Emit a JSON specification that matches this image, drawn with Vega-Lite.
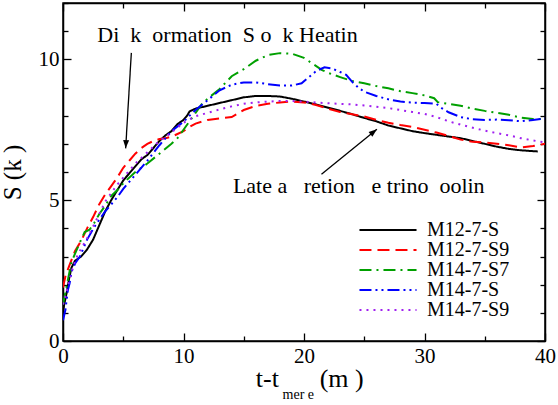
{
  "$schema": "https://vega.github.io/schema/vega-lite/v6.json",
  "width": 482,
  "height": 338,
  "autosize": "none",
  "padding": {"left": 63, "top": 3, "right": 13, "bottom": 64},
  "background": "white",
  "config": {
    "font": "Liberation Serif",
    "view": {"stroke": "black", "strokeWidth": 1.5},
    "axis": {
      "domainColor": "black", "domainWidth": 1.5, "tickColor": "black", "tickWidth": 1.3,
      "labelFont": "Liberation Serif", "labelFontSize": 21, "labelColor": "black",
      "titleFont": "Liberation Serif", "titleFontWeight": "normal", "titleColor": "black",
      "grid": false, "labelOverlap": false, "labelFlush": false
    },
    "legend": {"labelFont": "Liberation Serif"},
    "text": {"font": "Liberation Serif"}
  },
  "datasets": {
    "curves": [
      {"r":"M12-7-S","t":0,"s":1.0},{"r":"M12-7-S","t":0.1,"s":1.3},{"r":"M12-7-S","t":0.3,"s":1.7},{"r":"M12-7-S","t":0.5,"s":2.2},{"r":"M12-7-S","t":0.7,"s":2.6},{"r":"M12-7-S","t":1.0,"s":2.85},{"r":"M12-7-S","t":1.5,"s":3.0},{"r":"M12-7-S","t":2.0,"s":3.25},{"r":"M12-7-S","t":2.5,"s":3.6},{"r":"M12-7-S","t":3.0,"s":4.1},{"r":"M12-7-S","t":3.5,"s":4.6},{"r":"M12-7-S","t":4.0,"s":5.0},{"r":"M12-7-S","t":4.5,"s":5.35},{"r":"M12-7-S","t":5.0,"s":5.7},{"r":"M12-7-S","t":5.5,"s":5.95},{"r":"M12-7-S","t":6.0,"s":6.2},{"r":"M12-7-S","t":6.5,"s":6.45},{"r":"M12-7-S","t":7.0,"s":6.6},{"r":"M12-7-S","t":7.5,"s":6.85},{"r":"M12-7-S","t":8.0,"s":7.1},{"r":"M12-7-S","t":8.5,"s":7.3},{"r":"M12-7-S","t":9.0,"s":7.45},{"r":"M12-7-S","t":9.5,"s":7.7},{"r":"M12-7-S","t":10.0,"s":7.85},{"r":"M12-7-S","t":10.3,"s":8.0},{"r":"M12-7-S","t":10.5,"s":8.15},{"r":"M12-7-S","t":11,"s":8.25},{"r":"M12-7-S","t":12,"s":8.35},{"r":"M12-7-S","t":13,"s":8.45},{"r":"M12-7-S","t":14,"s":8.55},{"r":"M12-7-S","t":15,"s":8.65},{"r":"M12-7-S","t":16,"s":8.7},{"r":"M12-7-S","t":17,"s":8.7},{"r":"M12-7-S","t":18,"s":8.68},{"r":"M12-7-S","t":19,"s":8.6},{"r":"M12-7-S","t":20,"s":8.5},{"r":"M12-7-S","t":21,"s":8.4},{"r":"M12-7-S","t":22,"s":8.28},{"r":"M12-7-S","t":23,"s":8.17},{"r":"M12-7-S","t":24,"s":8.05},{"r":"M12-7-S","t":25,"s":7.92},{"r":"M12-7-S","t":26,"s":7.8},{"r":"M12-7-S","t":27,"s":7.65},{"r":"M12-7-S","t":28,"s":7.55},{"r":"M12-7-S","t":29,"s":7.45},{"r":"M12-7-S","t":30,"s":7.38},{"r":"M12-7-S","t":31,"s":7.32},{"r":"M12-7-S","t":32,"s":7.26},{"r":"M12-7-S","t":33,"s":7.2},{"r":"M12-7-S","t":34,"s":7.1},{"r":"M12-7-S","t":35,"s":7.0},{"r":"M12-7-S","t":36,"s":6.9},{"r":"M12-7-S","t":37,"s":6.82},{"r":"M12-7-S","t":38,"s":6.77},{"r":"M12-7-S","t":39,"s":6.74},{"r":"M12-7-S","t":39.4,"s":6.73},
      {"r":"M12-7-S9","t":0,"s":1.9},{"r":"M12-7-S9","t":0.2,"s":2.3},{"r":"M12-7-S9","t":0.5,"s":2.65},{"r":"M12-7-S9","t":1.0,"s":3.2},{"r":"M12-7-S9","t":1.5,"s":3.55},{"r":"M12-7-S9","t":2.0,"s":4.0},{"r":"M12-7-S9","t":2.5,"s":4.4},{"r":"M12-7-S9","t":3.0,"s":4.85},{"r":"M12-7-S9","t":3.5,"s":5.2},{"r":"M12-7-S9","t":4.0,"s":5.5},{"r":"M12-7-S9","t":4.5,"s":5.8},{"r":"M12-7-S9","t":5.0,"s":6.15},{"r":"M12-7-S9","t":5.5,"s":6.4},{"r":"M12-7-S9","t":6.0,"s":6.65},{"r":"M12-7-S9","t":6.5,"s":6.85},{"r":"M12-7-S9","t":7.0,"s":7.0},{"r":"M12-7-S9","t":7.5,"s":7.1},{"r":"M12-7-S9","t":8.0,"s":7.17},{"r":"M12-7-S9","t":8.5,"s":7.2},{"r":"M12-7-S9","t":9.0,"s":7.25},{"r":"M12-7-S9","t":9.5,"s":7.35},{"r":"M12-7-S9","t":10.0,"s":7.45},{"r":"M12-7-S9","t":10.5,"s":7.6},{"r":"M12-7-S9","t":11,"s":7.72},{"r":"M12-7-S9","t":12,"s":7.85},{"r":"M12-7-S9","t":13,"s":7.9},{"r":"M12-7-S9","t":14,"s":7.95},{"r":"M12-7-S9","t":15,"s":8.2},{"r":"M12-7-S9","t":16,"s":8.35},{"r":"M12-7-S9","t":17,"s":8.42},{"r":"M12-7-S9","t":18,"s":8.47},{"r":"M12-7-S9","t":19,"s":8.5},{"r":"M12-7-S9","t":20,"s":8.47},{"r":"M12-7-S9","t":21,"s":8.38},{"r":"M12-7-S9","t":22,"s":8.25},{"r":"M12-7-S9","t":23,"s":8.13},{"r":"M12-7-S9","t":24,"s":8.05},{"r":"M12-7-S9","t":25,"s":7.97},{"r":"M12-7-S9","t":26,"s":7.85},{"r":"M12-7-S9","t":27,"s":7.75},{"r":"M12-7-S9","t":28,"s":7.67},{"r":"M12-7-S9","t":29,"s":7.6},{"r":"M12-7-S9","t":30,"s":7.5},{"r":"M12-7-S9","t":31,"s":7.4},{"r":"M12-7-S9","t":32,"s":7.28},{"r":"M12-7-S9","t":33,"s":7.15},{"r":"M12-7-S9","t":34,"s":7.07},{"r":"M12-7-S9","t":35,"s":7.05},{"r":"M12-7-S9","t":36,"s":7.0},{"r":"M12-7-S9","t":37,"s":6.95},{"r":"M12-7-S9","t":38,"s":6.87},{"r":"M12-7-S9","t":39,"s":6.92},{"r":"M12-7-S9","t":40,"s":7.0},
      {"r":"M14-7-S7","t":0,"s":1.3},{"r":"M14-7-S7","t":0.3,"s":1.95},{"r":"M14-7-S7","t":0.7,"s":2.8},{"r":"M14-7-S7","t":1.0,"s":3.1},{"r":"M14-7-S7","t":1.4,"s":3.5},{"r":"M14-7-S7","t":1.8,"s":3.87},{"r":"M14-7-S7","t":2.2,"s":3.95},{"r":"M14-7-S7","t":2.6,"s":4.2},{"r":"M14-7-S7","t":3.0,"s":4.5},{"r":"M14-7-S7","t":3.5,"s":4.8},{"r":"M14-7-S7","t":4.0,"s":5.15},{"r":"M14-7-S7","t":4.5,"s":5.35},{"r":"M14-7-S7","t":5.0,"s":5.6},{"r":"M14-7-S7","t":6.0,"s":6.0},{"r":"M14-7-S7","t":7.0,"s":6.3},{"r":"M14-7-S7","t":8.0,"s":6.65},{"r":"M14-7-S7","t":9.0,"s":7.0},{"r":"M14-7-S7","t":9.5,"s":7.2},{"r":"M14-7-S7","t":10,"s":7.5},{"r":"M14-7-S7","t":10.5,"s":7.8},{"r":"M14-7-S7","t":11,"s":8.1},{"r":"M14-7-S7","t":11.5,"s":8.4},{"r":"M14-7-S7","t":12,"s":8.6},{"r":"M14-7-S7","t":13,"s":8.95},{"r":"M14-7-S7","t":14,"s":9.4},{"r":"M14-7-S7","t":15,"s":9.65},{"r":"M14-7-S7","t":16,"s":9.95},{"r":"M14-7-S7","t":17,"s":10.15},{"r":"M14-7-S7","t":18,"s":10.22},{"r":"M14-7-S7","t":19,"s":10.2},{"r":"M14-7-S7","t":20,"s":10.05},{"r":"M14-7-S7","t":20.7,"s":9.85},{"r":"M14-7-S7","t":21.5,"s":9.62},{"r":"M14-7-S7","t":22,"s":9.52},{"r":"M14-7-S7","t":23,"s":9.37},{"r":"M14-7-S7","t":24,"s":9.23},{"r":"M14-7-S7","t":25,"s":9.15},{"r":"M14-7-S7","t":26,"s":9.05},{"r":"M14-7-S7","t":27,"s":8.97},{"r":"M14-7-S7","t":28,"s":8.87},{"r":"M14-7-S7","t":29,"s":8.8},{"r":"M14-7-S7","t":30,"s":8.72},{"r":"M14-7-S7","t":30.8,"s":8.62},{"r":"M14-7-S7","t":31.1,"s":8.48},{"r":"M14-7-S7","t":32,"s":8.42},{"r":"M14-7-S7","t":33,"s":8.35},{"r":"M14-7-S7","t":34,"s":8.25},{"r":"M14-7-S7","t":35,"s":8.17},{"r":"M14-7-S7","t":36,"s":8.1},{"r":"M14-7-S7","t":37,"s":8.03},{"r":"M14-7-S7","t":38,"s":7.93},{"r":"M14-7-S7","t":39,"s":7.88},{"r":"M14-7-S7","t":40,"s":7.88},
      {"r":"M14-7-S","t":0,"s":0.74},{"r":"M14-7-S","t":0.2,"s":1.1},{"r":"M14-7-S","t":0.4,"s":1.8},{"r":"M14-7-S","t":0.55,"s":2.05},{"r":"M14-7-S","t":0.7,"s":2.45},{"r":"M14-7-S","t":1.0,"s":2.75},{"r":"M14-7-S","t":1.4,"s":3.0},{"r":"M14-7-S","t":2.0,"s":3.6},{"r":"M14-7-S","t":2.6,"s":4.05},{"r":"M14-7-S","t":3.0,"s":4.3},{"r":"M14-7-S","t":3.5,"s":4.6},{"r":"M14-7-S","t":4.0,"s":4.85},{"r":"M14-7-S","t":4.5,"s":5.1},{"r":"M14-7-S","t":5.0,"s":5.4},{"r":"M14-7-S","t":5.5,"s":5.65},{"r":"M14-7-S","t":6.0,"s":5.9},{"r":"M14-7-S","t":7.0,"s":6.4},{"r":"M14-7-S","t":8.0,"s":6.95},{"r":"M14-7-S","t":9.0,"s":7.45},{"r":"M14-7-S","t":10,"s":7.78},{"r":"M14-7-S","t":10.5,"s":8.0},{"r":"M14-7-S","t":11,"s":8.2},{"r":"M14-7-S","t":12,"s":8.55},{"r":"M14-7-S","t":13,"s":8.9},{"r":"M14-7-S","t":14,"s":9.1},{"r":"M14-7-S","t":15,"s":9.18},{"r":"M14-7-S","t":16,"s":9.18},{"r":"M14-7-S","t":17,"s":9.12},{"r":"M14-7-S","t":18,"s":9.07},{"r":"M14-7-S","t":19,"s":9.07},{"r":"M14-7-S","t":19.8,"s":9.15},{"r":"M14-7-S","t":20.5,"s":9.4},{"r":"M14-7-S","t":21,"s":9.58},{"r":"M14-7-S","t":21.7,"s":9.72},{"r":"M14-7-S","t":22.3,"s":9.68},{"r":"M14-7-S","t":23,"s":9.55},{"r":"M14-7-S","t":23.5,"s":9.45},{"r":"M14-7-S","t":24,"s":9.2},{"r":"M14-7-S","t":24.5,"s":9.0},{"r":"M14-7-S","t":25,"s":8.85},{"r":"M14-7-S","t":26,"s":8.7},{"r":"M14-7-S","t":27,"s":8.58},{"r":"M14-7-S","t":28,"s":8.5},{"r":"M14-7-S","t":29,"s":8.46},{"r":"M14-7-S","t":30,"s":8.45},{"r":"M14-7-S","t":31,"s":8.42},{"r":"M14-7-S","t":31.3,"s":8.3},{"r":"M14-7-S","t":32,"s":8.12},{"r":"M14-7-S","t":33,"s":7.95},{"r":"M14-7-S","t":34,"s":7.87},{"r":"M14-7-S","t":35,"s":7.85},{"r":"M14-7-S","t":36,"s":7.86},{"r":"M14-7-S","t":37,"s":7.84},{"r":"M14-7-S","t":38,"s":7.8},{"r":"M14-7-S","t":39,"s":7.85},{"r":"M14-7-S","t":40,"s":7.9},
      {"r":"M14-7-S9","t":0,"s":1.3},{"r":"M14-7-S9","t":0.2,"s":1.6},{"r":"M14-7-S9","t":0.4,"s":1.92},{"r":"M14-7-S9","t":0.8,"s":2.6},{"r":"M14-7-S9","t":1.2,"s":3.05},{"r":"M14-7-S9","t":1.6,"s":3.35},{"r":"M14-7-S9","t":2.0,"s":3.65},{"r":"M14-7-S9","t":2.6,"s":4.15},{"r":"M14-7-S9","t":3.0,"s":4.5},{"r":"M14-7-S9","t":3.5,"s":4.95},{"r":"M14-7-S9","t":4.0,"s":5.25},{"r":"M14-7-S9","t":4.5,"s":5.55},{"r":"M14-7-S9","t":5.0,"s":5.8},{"r":"M14-7-S9","t":6.0,"s":6.3},{"r":"M14-7-S9","t":7.0,"s":6.7},{"r":"M14-7-S9","t":8.0,"s":7.1},{"r":"M14-7-S9","t":9.0,"s":7.4},{"r":"M14-7-S9","t":10,"s":7.75},{"r":"M14-7-S9","t":11,"s":7.98},{"r":"M14-7-S9","t":12,"s":8.1},{"r":"M14-7-S9","t":13,"s":8.22},{"r":"M14-7-S9","t":14,"s":8.33},{"r":"M14-7-S9","t":15,"s":8.42},{"r":"M14-7-S9","t":16,"s":8.47},{"r":"M14-7-S9","t":17,"s":8.5},{"r":"M14-7-S9","t":18,"s":8.52},{"r":"M14-7-S9","t":19,"s":8.52},{"r":"M14-7-S9","t":20,"s":8.5},{"r":"M14-7-S9","t":21,"s":8.47},{"r":"M14-7-S9","t":22,"s":8.44},{"r":"M14-7-S9","t":23,"s":8.42},{"r":"M14-7-S9","t":24,"s":8.4},{"r":"M14-7-S9","t":25,"s":8.36},{"r":"M14-7-S9","t":26,"s":8.32},{"r":"M14-7-S9","t":27,"s":8.27},{"r":"M14-7-S9","t":28,"s":8.2},{"r":"M14-7-S9","t":29,"s":8.13},{"r":"M14-7-S9","t":30,"s":8.06},{"r":"M14-7-S9","t":31,"s":7.95},{"r":"M14-7-S9","t":32,"s":7.8},{"r":"M14-7-S9","t":33,"s":7.68},{"r":"M14-7-S9","t":34,"s":7.57},{"r":"M14-7-S9","t":35,"s":7.47},{"r":"M14-7-S9","t":36,"s":7.38},{"r":"M14-7-S9","t":37,"s":7.3},{"r":"M14-7-S9","t":38,"s":7.2},{"r":"M14-7-S9","t":39,"s":7.12},{"r":"M14-7-S9","t":40,"s":7.05}
    ],
    "arrows": [
      {"x": 5.67, "y": 10.23, "x2": 5.2, "y2": 6.84, "heading": 183.4},
      {"x": 21.45, "y": 5.92, "x2": 26.05, "y2": 7.52, "heading": 51}
    ],
    "notes": [
      {"kind": "note", "x": 2.85, "y": 10.62, "label": "Di\u00a0\u00a0k\u00a0\u00a0ormation\u00a0\u00a0S\u00a0o\u00a0\u00a0k\u00a0Heatin"},
      {"kind": "note", "x": 14.1, "y": 5.25, "label": "Late a\u00a0\u00a0\u00a0retion\u00a0\u00a0\u00a0e trino\u00a0\u00a0oolin"},
      {"kind": "title", "x": 16.0, "y": -1.645, "label": "t-t"},
      {"kind": "sub", "x": 18.22, "y": -2.07, "label": "mer e"},
      {"kind": "title", "x": 21.3, "y": -1.645, "label": "(m )"}
    ]
  },
  "layer": [
    {
      "data": {"name": "curves"},
      "mark": {"type": "line", "strokeWidth": 2, "clip": true},
      "encoding": {
        "x": {
          "field": "t", "type": "quantitative",
          "scale": {"domain": [0, 40], "nice": false, "zero": false},
          "axis": {
            "orient": "bottom", "title": null,
            "values": [0, 5, 10, 15, 20, 25, 30, 35, 40],
            "labelExpr": "datum.value % 10 === 0 ? datum.label : ''",
            "tickSize": {"condition": {"test": "datum.value % 10 === 0", "value": -8}, "value": -5},
            "labelPadding": 12
          }
        },
        "y": {
          "field": "s", "type": "quantitative",
          "scale": {"domain": [0, 12], "nice": false, "zero": false},
          "axis": {
            "orient": "left", "title": "S (k )", "titleFontSize": 25, "titlePadding": 13,
            "values": [0, 1, 2, 3, 4, 5, 6, 7, 8, 9, 10, 11, 12],
            "labelExpr": "datum.value % 5 === 0 ? datum.label : ''",
            "tickSize": {"condition": {"test": "datum.value % 5 === 0", "value": -8}, "value": -5},
            "labelPadding": 12
          }
        },
        "color": {
          "field": "r", "type": "nominal",
          "scale": {"domain": ["M12-7-S", "M12-7-S9", "M14-7-S7", "M14-7-S", "M14-7-S9"],
                    "range": ["#000000", "#ff0000", "#00a000", "#0000ff", "#a020f0"]},
          "legend": {
            "orient": "none", "legendX": 315, "legendY": 217, "title": null,
            "symbolType": "M-3.17,0H3.17", "symbolSize": 324, "symbolStrokeWidth": 2,
            "labelFontSize": 20, "labelColor": "black",
            "labelOffset": 29, "rowPadding": 0, "padding": 0
          }
        },
        "strokeDash": {
          "field": "r", "type": "nominal",
          "scale": {"domain": ["M12-7-S", "M12-7-S9", "M14-7-S7", "M14-7-S", "M14-7-S9"],
                    "range": [[1, 0], [12, 6], [12, 5, 2, 5], [12, 4, 2, 4, 2, 4], [2, 5]]},
          "legend": {
            "orient": "none", "legendX": 315, "legendY": 217, "title": null,
            "symbolType": "M-3.17,0H3.17", "symbolSize": 324, "symbolStrokeWidth": 2,
            "labelFontSize": 20, "labelColor": "black",
            "labelOffset": 29, "rowPadding": 0, "padding": 0
          }
        }
      }
    },
    {
      "data": {"name": "arrows"},
      "mark": {"type": "rule", "color": "black", "strokeWidth": 1.3},
      "encoding": {
        "x": {
          "field": "x", "type": "quantitative",
          "scale": {"domain": [0, 40], "nice": false, "zero": false},
          "axis": {
            "orient": "top", "title": null, "labels": false,
            "values": [0, 5, 10, 15, 20, 25, 30, 35, 40],
            "tickSize": {"condition": {"test": "datum.value % 10 === 0", "value": -8}, "value": -5}
          }
        },
        "y": {
          "field": "y", "type": "quantitative",
          "scale": {"domain": [0, 12], "nice": false, "zero": false},
          "axis": {
            "orient": "right", "title": null, "labels": false,
            "values": [0, 1, 2, 3, 4, 5, 6, 7, 8, 9, 10, 11, 12],
            "tickSize": {"condition": {"test": "datum.value % 5 === 0", "value": -8}, "value": -5}
          }
        },
        "x2": {"field": "x2"},
        "y2": {"field": "y2"}
      }
    },
    {
      "data": {"name": "arrows"},
      "mark": {"type": "point", "shape": "M0,0L-0.4,1.1L0.4,1.1Z", "filled": true, "color": "black", "opacity": 1, "size": 225},
      "encoding": {
        "x": {"field": "x2", "type": "quantitative", "scale": {"domain": [0, 40], "nice": false, "zero": false}, "axis": null},
        "y": {"field": "y2", "type": "quantitative", "scale": {"domain": [0, 12], "nice": false, "zero": false}, "axis": null},
        "angle": {"field": "heading", "type": "quantitative", "scale": null}
      }
    },
    {
      "data": {"name": "notes"},
      "transform": [{"filter": "datum.kind === 'note'"}],
      "mark": {"type": "text", "align": "left", "baseline": "alphabetic", "font": "Liberation Serif", "fontSize": 22, "color": "black"},
      "encoding": {
        "x": {"field": "x", "type": "quantitative", "scale": {"domain": [0, 40], "nice": false, "zero": false}, "axis": null},
        "y": {"field": "y", "type": "quantitative", "scale": {"domain": [0, 12], "nice": false, "zero": false}, "axis": null},
        "text": {"field": "label"}
      }
    },
    {
      "data": {"name": "notes"},
      "transform": [{"filter": "datum.kind === 'title'"}],
      "mark": {"type": "text", "align": "left", "baseline": "alphabetic", "font": "Liberation Serif", "fontSize": 26, "color": "black"},
      "encoding": {
        "x": {"field": "x", "type": "quantitative", "scale": {"domain": [0, 40], "nice": false, "zero": false}, "axis": null},
        "y": {"field": "y", "type": "quantitative", "scale": {"domain": [0, 12], "nice": false, "zero": false}, "axis": null},
        "text": {"field": "label"}
      }
    },
    {
      "data": {"name": "notes"},
      "transform": [{"filter": "datum.kind === 'sub'"}],
      "mark": {"type": "text", "align": "left", "baseline": "alphabetic", "font": "Liberation Serif", "fontSize": 14, "color": "black"},
      "encoding": {
        "x": {"field": "x", "type": "quantitative", "scale": {"domain": [0, 40], "nice": false, "zero": false}, "axis": null},
        "y": {"field": "y", "type": "quantitative", "scale": {"domain": [0, 12], "nice": false, "zero": false}, "axis": null},
        "text": {"field": "label"}
      }
    }
  ],
  "resolve": {"axis": {"x": "independent", "y": "independent"}}
}
